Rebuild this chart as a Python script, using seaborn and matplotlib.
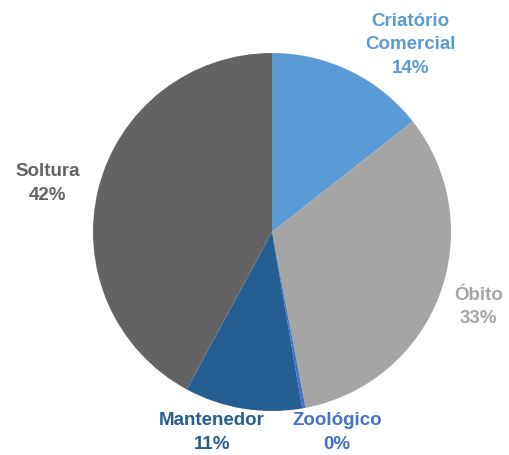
import matplotlib
matplotlib.use("Agg")
import matplotlib.pyplot as plt
import seaborn as sns

# Data
categories = ["Criatório\nComercial", "Óbito", "Zoológico", "Mantenedor", "Soltura"]
shares = [14.4, 32.6, 0.3, 10.6, 42.1]
colors = ["#5B9BD5", "#A5A5A5", "#4472C4", "#255E91", "#636363"]

# label anchor points (pie radius = 1)
label_pos = [(0.775, 1.045), (1.155, -0.42), (0.363, -1.12), (-0.335, -1.12), (-1.255, 0.27)]

sns.set_theme(style="white")
plt.rcParams["font.family"] = ["Liberation Sans", "DejaVu Sans"]

fig = plt.figure(figsize=(5.09, 4.55), dpi=100)
ax = fig.add_axes([0, 0, 1, 1])

ax.pie(shares, colors=colors, startangle=90, counterclock=False,
       radius=1, wedgeprops=dict(linewidth=0))

for cat, val, col, (x, y) in zip(categories, shares, colors, label_pos):
    ax.text(x, y, f"{cat}\n{val:.0f}%", color=col, fontsize=13.5, fontweight="bold",
            ha="center", va="center", linespacing=1.5)

r = 179
ax.set_xlim(-272 / r, (509 - 272) / r)
ax.set_ylim(-(455 - 232) / r, 232 / r)
ax.set_aspect("auto")
ax.axis("off")

plt.savefig("out.png", dpi=100)
